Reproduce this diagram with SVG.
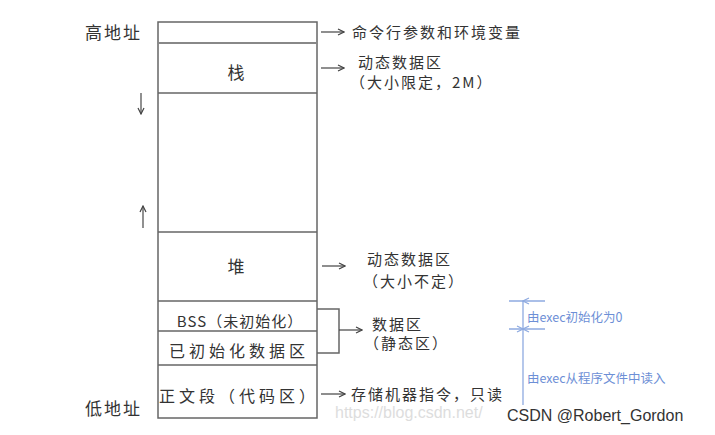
<svg xmlns="http://www.w3.org/2000/svg" width="715" height="435" viewBox="0 0 715 435">
<style>
.t{font-family:"Noto Sans CJK SC","Liberation Serif",serif;fill:#333;font-size:15px;letter-spacing:2px}
.b{font-family:"Noto Sans CJK SC","Liberation Serif",serif;fill:#333;font-size:16px;letter-spacing:4px;text-anchor:middle}
.blue{font-family:"Noto Sans CJK SC","Liberation Serif",serif;fill:#6d8fd6;font-size:12.5px}
.ln{stroke:#666;stroke-width:1.5;fill:none}
.bl{stroke:#8eaae0;stroke-width:1.3;fill:none}
</style>
<defs>
<marker id="ah" markerWidth="8" markerHeight="8" refX="7" refY="4" orient="auto" markerUnits="userSpaceOnUse">
<path d="M1,1 L7,4 L1,7" fill="none" stroke="#444" stroke-width="1.2"/>
</marker>
<marker id="bah" markerWidth="8" markerHeight="8" refX="4" refY="1" orient="auto-start-reverse" markerUnits="userSpaceOnUse">
<path d="M1,7 L4,1 L7,7" fill="none" stroke="#8eaae0" stroke-width="1.2"/>
</marker>
</defs>
<rect width="715" height="435" fill="#fff"/>
<g id="labels">
<text class="t" x="85" y="39" style="font-size:17px">高地址</text>
<text class="t" x="85" y="415" style="font-size:17px">低地址</text>
</g>
<g id="memory">
<rect x="158" y="22" width="159" height="396" class="ln"/>
<line x1="158" y1="43" x2="317" y2="43" stroke="#888" stroke-width="2"/>
<line x1="158" y1="93" x2="317" y2="93" class="ln"/>
<line x1="158" y1="232" x2="317" y2="232" class="ln"/>
<line x1="158" y1="301" x2="317" y2="301" class="ln"/>
<line x1="158" y1="331" x2="317" y2="331" class="ln"/>
<line x1="158" y1="365" x2="317" y2="365" class="ln"/>
</g>
<g id="stack"><text class="b" x="238" y="79" style="font-size:17px">栈</text></g>
<g id="heap"><text class="b" x="238" y="273" style="font-size:17px">堆</text></g>
<g id="bss"><text class="b" x="240" y="327" style="font-size:15px;letter-spacing:1px">BSS（未初始化）</text></g>
<g id="data"><text class="b" x="239" y="357">已初始化数据区</text></g>
<g id="text"><text class="b" x="239" y="402">正文段（代码区）</text></g>
<g id="connectors">
<line x1="141" y1="93" x2="141" y2="114" stroke="#555" stroke-width="1.3" marker-end="url(#ah)"/>
<line x1="143" y1="228" x2="143" y2="206" stroke="#555" stroke-width="1.3" marker-end="url(#ah)"/>
<line x1="321" y1="32" x2="344" y2="32" stroke="#444" stroke-width="1.2" marker-end="url(#ah)"/>
<line x1="321" y1="68" x2="344" y2="68" stroke="#444" stroke-width="1.2" marker-end="url(#ah)"/>
<line x1="322" y1="266" x2="345" y2="266" stroke="#444" stroke-width="1.2" marker-end="url(#ah)"/>
<path d="M317,309 H339 V353 H317" class="ln"/>
<line x1="339" y1="330" x2="362" y2="330" stroke="#444" stroke-width="1.2" marker-end="url(#ah)"/>
<line x1="321" y1="394" x2="345" y2="394" stroke="#444" stroke-width="1.2" marker-end="url(#ah)"/>
<line x1="509" y1="301" x2="545" y2="301" class="bl"/>
<line x1="509" y1="329" x2="545" y2="329" class="bl"/>
<line x1="523" y1="301" x2="523" y2="329" class="bl" marker-start="url(#bah)" marker-end="url(#bah)"/>
<line x1="523" y1="329" x2="523" y2="405" class="bl" marker-start="url(#bah)"/>
</g>
<g id="notes">
<text class="t" x="352" y="38">命令行参数和环境变量</text>
<text class="t" x="358" y="68">动态数据区</text>
<text class="t" x="350" y="88">（大小限定，2M）</text>
<text class="t" x="367" y="265">动态数据区</text>
<text class="t" x="363" y="287">（大小不定）</text>
<text class="t" x="372" y="330">数据区</text>
<text class="t" x="364" y="349">（静态区）</text>
<text class="t" x="351" y="400">存储机器指令，只读</text>
<text class="blue" x="527" y="322">由exec初始化为0</text>
<text class="blue" x="527" y="383">由exec从程序文件中读入</text>
</g>
<g id="watermark">
<text x="335" y="418" font-family="Liberation Sans,sans-serif" font-size="16" fill="#ddd">https://blog.csdn.net/</text>
<text x="507" y="421" font-family="Liberation Sans,sans-serif" font-size="16" fill="#333">CSDN @Robert_Gordon</text>
</g>
</svg>
